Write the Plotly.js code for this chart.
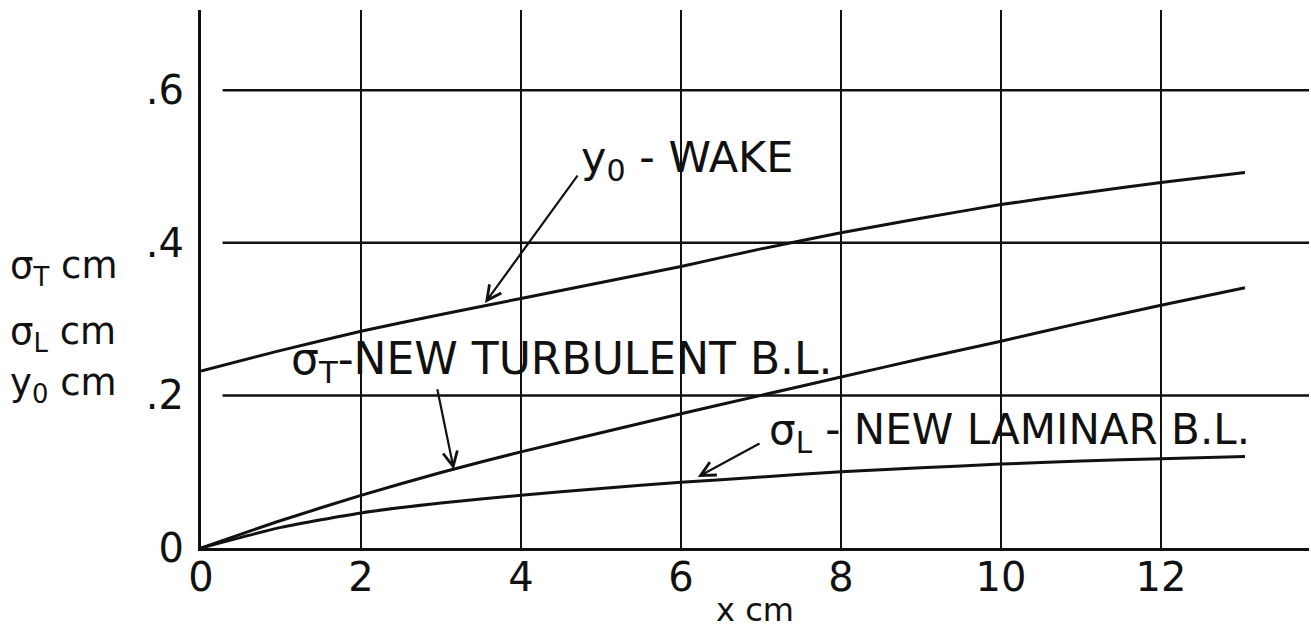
<!DOCTYPE html>
<html>
<head>
<meta charset="utf-8">
<script src="https://cdn.plot.ly/plotly-3.0.1.min.js"></script>
<style>html,body{margin:0;padding:0;background:#fff;}#chart{width:1311px;height:640px;}</style>
</head>
<body>
<div id="chart"></div>
<script>
const xValues = [0, 1, 2, 3, 4, 5, 6, 7, 8, 9, 10, 11, 12, 13.05];
const wakeY0 = [0.232, 0.259, 0.284, 0.306, 0.327, 0.348, 0.369, 0.392, 0.413, 0.432, 0.450, 0.465, 0.479, 0.492];
const sigmaT = [0, 0.036, 0.069, 0.099, 0.126, 0.151, 0.176, 0.200, 0.224, 0.248, 0.271, 0.295, 0.318, 0.341];
const sigmaL = [0, 0.027, 0.046, 0.059, 0.069, 0.078, 0.086, 0.093, 0.100, 0.105, 0.110, 0.114, 0.117, 0.120];
const xTickVals = [0, 2, 4, 6, 8, 10, 12];
const xTickText = ['0', '2', '4', '6', '8', '10', '12'];
const yTickVals = [0, 0.2, 0.4, 0.6];
const yTickText = ['0', '.2', '.4', '.6'];

const FONT = 'DejaVu Sans, Liberation Sans, sans-serif';
const INK = '#111';
const lineStyle = {color: INK, width: 3, shape: 'spline', smoothing: 0.6};

const traces = [
  {x: xValues, y: wakeY0, mode: 'lines', line: lineStyle, name: 'y0 - WAKE', hoverinfo: 'skip'},
  {x: xValues, y: sigmaT, mode: 'lines', line: lineStyle, name: 'σT - NEW TURBULENT B.L.', hoverinfo: 'skip'},
  {x: xValues, y: sigmaL, mode: 'lines', line: lineStyle, name: 'σL - NEW LAMINAR B.L.', hoverinfo: 'skip'}
];

const arrow = (x, y, ax, ay) => ({
  x: x, y: y, ax: ax, ay: ay, xref: 'x', yref: 'y', axref: 'x', ayref: 'y',
  text: '', showarrow: true, arrowhead: 5, arrowsize: 1.3, arrowwidth: 2.2, arrowcolor: INK
});
const label = (x, y, text, size) => ({
  x: x, y: y, xref: 'x', yref: 'y', text: text, showarrow: false,
  xanchor: 'left', yanchor: 'middle', font: {family: FONT, size: size, color: INK}
});
const sideLabel = (y, text) => ({
  x: -0.174, y: y, xref: 'paper', yref: 'y', text: text, showarrow: false,
  xanchor: 'left', yanchor: 'middle', font: {family: FONT, size: 37, color: INK}
});

// horizontal grid lines (start a little to the right of the y axis, as in the original)
const gridShapes = yTickVals.filter(v => v > 0).map(v => ({
  type: 'line', xref: 'x', yref: 'y', x0: 0.27, x1: 13.85, y0: v, y1: v,
  line: {color: INK, width: 2.5}
}));

const layout = {
  width: 1311, height: 640,
  margin: {l: 201, r: 2, t: 10, b: 92},
  paper_bgcolor: '#fff', plot_bgcolor: '#fff',
  showlegend: false,
  xaxis: {
    range: [0, 13.85], tickvals: xTickVals, ticktext: xTickText,
    showgrid: true, gridcolor: INK, gridwidth: 2.5,
    zeroline: false, showline: true, linecolor: INK, linewidth: 3,
    ticks: '', ticklabelstandoff: -8, tickfont: {family: FONT, size: 40, color: INK},
    title: {text: 'x cm', font: {family: FONT, size: 32, color: INK}, standoff: 0}
  },
  yaxis: {
    range: [0, 0.705], tickvals: yTickVals, ticktext: yTickText,
    showgrid: false,
    zeroline: false, showline: true, linecolor: INK, linewidth: 3,
    ticks: '', ticklabelstandoff: 6, tickfont: {family: FONT, size: 40, color: INK}
  },
  shapes: gridShapes,
  annotations: [
    label(4.72, 0.508, 'y<sub>0</sub>\u00A0-\u00A0WAKE', 43),
    arrow(3.55, 0.321, 4.72, 0.49),
    label(1.1, 0.245, 'σ<sub>T</sub>-NEW TURBULENT B.L.', 44),
    arrow(3.16, 0.103, 2.95, 0.210),
    label(7.08, 0.152, 'σ<sub>L</sub>\u00A0-\u00A0NEW LAMINAR B.L.', 42),
    arrow(6.21, 0.093, 7.0, 0.138),
    sideLabel(0.367, 'σ<sub>T</sub>\u00A0cm'),
    sideLabel(0.280, 'σ<sub>L</sub>\u00A0cm'),
    sideLabel(0.214, 'y<sub>0</sub>\u00A0cm')
  ]
};

Plotly.newPlot('chart', traces, layout, {staticPlot: true, displayModeBar: false});
</script>
</body>
</html>
